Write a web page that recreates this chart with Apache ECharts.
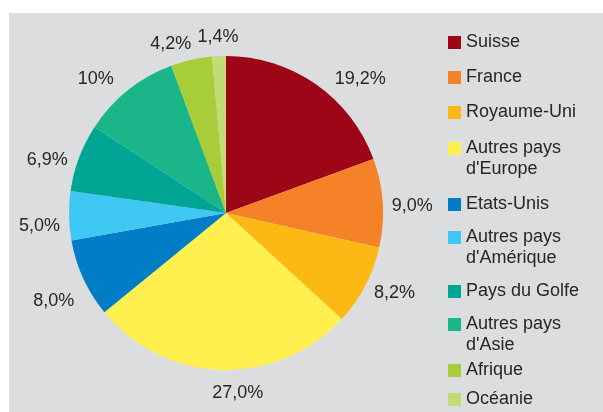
<!DOCTYPE html>
<html>
<head>
<meta charset="utf-8">
<script src="https://cdn.jsdelivr.net/npm/echarts@6/dist/echarts.min.js"></script>
<style>
html, body { margin: 0; padding: 0; background: #fff; }
#chart { position: absolute; left: 9px; top: 13px; width: 594px; height: 399px; background: #dcdddf; }
</style>
</head>
<body>
<div id="chart"></div>
<script>
// données
var pays = ['Suisse', 'France', 'Royaume-Uni', "Autres pays d'Europe", 'Etats-Unis', "Autres pays d'Amérique", 'Pays du Golfe', "Autres pays d'Asie", 'Afrique', 'Océanie']
var parts = [19.2, 9.0, 8.2, 27.0, 8.0, 5.0, 6.9, 10, 4.2, 1.4]
var etiquettes = ['19,2%', '9,0%', '8,2%', '27,0%', '8,0%', '5,0%', '6,9%', '10%', '4,2%', '1,4%']

// style
var couleurs = ['#9d0617', '#f58229', '#fdb913', '#fff050', '#007dc5', '#40c8f4', '#00a693', '#1ab68a', '#a7cd39', '#c1dc75']
var decalages = [[8, 3], [-6, 4], [-5, 3], [47, 13], [5, 18], [6, 10], [3, 6], [-3, -3], [7, -6], [25, -9]]
var legendeHaut = [23, 58, 93, 129, 185, 218, 272, 305, 351, 380]

var police = 'Liberation Sans, Arial, sans-serif'

var legendes = pays.map(function (nom, i) {
	var deuxLignes = nom.indexOf('Autres pays ') === 0
	return {
		data: [nom],
		orient: 'vertical',
		left: 439,
		top: legendeHaut[i] - (deuxLignes ? 25 : 4),
		padding: 0,
		itemWidth: 13,
		itemHeight: 13,
		icon: 'rect',
		selectedMode: false,
		formatter: function (n) {
			// ligne vide devant pour garder le carré sur la première ligne
			return n.indexOf('Autres pays ') === 0 ? '\n' + n.replace('Autres pays ', 'Autres pays\n') : n
		},
		textStyle: {
			fontFamily: police,
			fontSize: 18,
			lineHeight: 21,
			color: '#262626',
		},
	}
})

var myChart = echarts.init(document.getElementById('chart'))
myChart.setOption({
	color: couleurs,
	animation: false,
	legend: legendes,
	series: [
		{
			type: 'pie',
			center: [217, 200],
			radius: 157,
			startAngle: 90,
			clockwise: true,
			avoidLabelOverlap: false,
			data: pays.map(function (nom, i) {
				return { name: nom, value: parts[i] }
			}),
			label: {
				position: 'outside',
				fontFamily: police,
				fontSize: 18,
				color: '#262626',
				formatter: function (p) {
					return etiquettes[p.dataIndex]
				},
			},
			labelLine: { show: false, length: 10, length2: 0 },
			labelLayout: function (p) {
				return { dx: decalages[p.dataIndex][0], dy: decalages[p.dataIndex][1] }
			},
			itemStyle: { borderWidth: 0 },
			emphasis: { disabled: true },
		},
	],
})
</script>
</body>
</html>
